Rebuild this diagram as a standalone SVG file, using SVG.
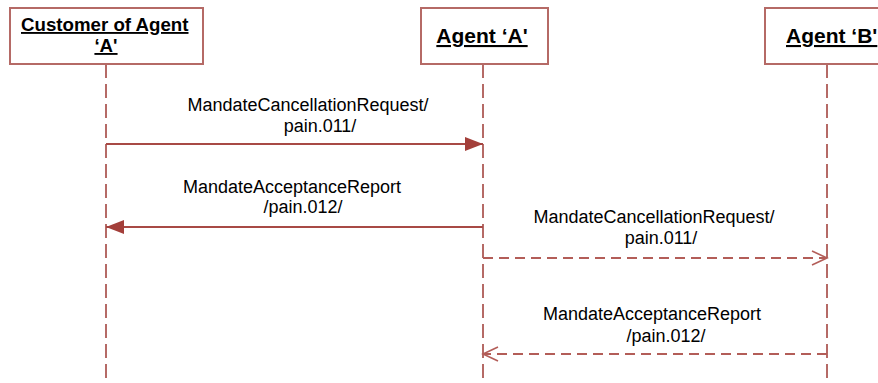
<svg xmlns="http://www.w3.org/2000/svg" width="878" height="383" viewBox="0 0 878 383">
<style>
.box{fill:#fff;stroke:#b56a66;stroke-width:2}
.life{stroke:#b56a66;stroke-width:2;stroke-dasharray:14 6;fill:none}
.msg{stroke:#a84a45;stroke-width:2;fill:none}
.dmsg{stroke:#b35d58;stroke-width:2;fill:none;stroke-dasharray:10 6}
.hd{font-family:"Liberation Sans",Arial,sans-serif;font-weight:bold;fill:#000;text-decoration:underline}
.lb{font-family:"Liberation Sans",Arial,sans-serif;font-size:18px;fill:#000;text-anchor:middle}
</style>
<defs>
<marker id="fa" markerUnits="userSpaceOnUse" markerWidth="20" markerHeight="16" refX="18" refY="8" orient="auto">
<path d="M0,1 L18,8 L0,15 z" fill="#a33f3a"/>
</marker>
<marker id="oa" markerUnits="userSpaceOnUse" markerWidth="18" markerHeight="18" refX="16" refY="9" orient="auto">
<path d="M1,2 L16,9 L1,16" fill="none" stroke="#b35d58" stroke-width="1.6"/>
</marker>
</defs>
<g id="customer">
<rect class="box" x="10" y="8" width="193" height="56"/>
<text class="hd" x="21" y="31" font-size="18.7">Customer of Agent </text>
<text class="hd" x="106" y="52" font-size="18.7" text-anchor="middle">‘A'</text>
<line class="life" x1="106" y1="64" x2="106" y2="383"/>
</g>
<g id="agentA">
<rect class="box" x="421" y="8" width="127" height="56"/>
<text class="hd" x="482" y="43" font-size="21" text-anchor="middle">Agent ‘A'</text>
<line class="life" x1="483" y1="64" x2="483" y2="383"/>
</g>
<g id="agentB">
<rect class="box" x="765" y="8" width="124" height="56"/>
<text class="hd" x="786" y="43" font-size="21">Agent ‘B'</text>
<line class="life" x1="827" y1="64" x2="827" y2="383"/>
</g>
<g id="connectors">
<line class="msg" x1="106" y1="144" x2="483" y2="144" marker-end="url(#fa)"/>
<line class="msg" x1="483" y1="227" x2="106" y2="227" marker-end="url(#fa)"/>
<line class="dmsg" x1="483" y1="258" x2="827" y2="258" marker-end="url(#oa)"/>
<line class="dmsg" x1="827" y1="354" x2="483" y2="354" marker-end="url(#oa)"/>
</g>
<g id="labels">
<text class="lb" x="308" y="111">MandateCancellationRequest/</text>
<text class="lb" x="320" y="132">pain.011/</text>
<text class="lb" x="292" y="193">MandateAcceptanceReport</text>
<text class="lb" x="303" y="213">/pain.012/</text>
<text class="lb" x="654" y="223">MandateCancellationRequest/</text>
<text class="lb" x="661" y="244">pain.011/</text>
<text class="lb" x="652" y="320">MandateAcceptanceReport</text>
<text class="lb" x="666" y="342">/pain.012/</text>
</g>
</svg>
